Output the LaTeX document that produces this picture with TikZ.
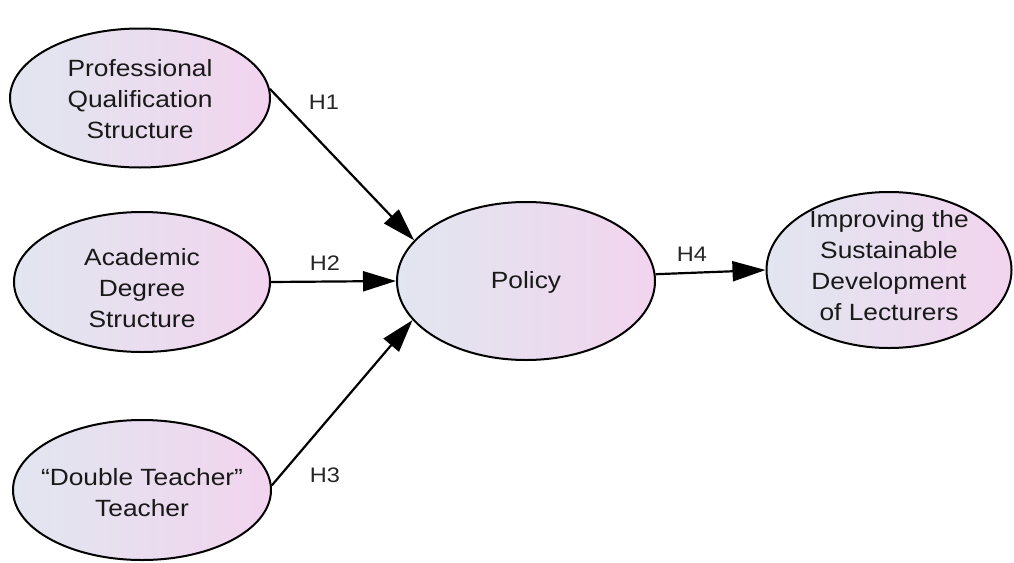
\documentclass[tikz,border=0pt]{standalone}
\usepackage{fontspec}
\setmainfont{Liberation Sans}[FakeStretch=1.12]
\usetikzlibrary{shapes.geometric,arrows.meta}
\definecolor{shL}{RGB}{225,230,240}
\definecolor{shR}{RGB}{242,212,238}
\tikzset{
  ell/.style={ellipse, draw=black, line width=2pt, inner sep=0pt, left color=shL, right color=shR},
  txt/.style={align=center, inner sep=0pt, text=black!90, font=\fontsize{23.5}{31}\selectfont},
  hlab/.style={inner sep=0pt, text=black!85, font=\fontsize{21}{24}\selectfont},
  link/.style={line width=2.2pt, -{Triangle[length=33pt,width=20pt]}}
}
\begin{document}
\begin{tikzpicture}[x=1pt,y=-1pt]
\useasboundingbox (0,0) rectangle (1014,562);
% ellipses
\node[ell, minimum width=260pt, minimum height=139pt] (pq) at (140,98) {};
\node[ell, minimum width=256pt, minimum height=140pt] (ads) at (142,282) {};
\node[ell, minimum width=258pt, minimum height=140pt] (dt) at (142,490) {};
\node[ell, minimum width=258pt, minimum height=158pt] (pol) at (526,281) {};
\node[ell, minimum width=245pt, minimum height=156pt] (imp) at (889,270) {};
% texts
\node[txt] (pqt) at (140,99) {Professional\\Qualification\\Structure};
\node[txt] (adst) at (142,288) {Academic\\Degree\\Structure};
\node[txt] (dtt) at (142,493) {``Double Teacher''\\Teacher};
\node[txt] (polt) at (526,282) {Policy};
\node[txt] (impt) at (889,266) {Improving the\\Sustainable\\Development\\of Lecturers};
% connectors
\draw[link] (pq.4) -- (pol.160);
\draw[link] (ads.east) -- (pol.west);
\draw[link] (dt.2) -- (pol.199);
\draw[link] (pol.3) -- (imp.west);
% labels
\node[hlab] (h1) at (324,102) {H1};
\node[hlab] (h2) at (325,263) {H2};
\node[hlab] (h3) at (325,475) {H3};
\node[hlab] (h4) at (692,254) {H4};
\end{tikzpicture}
\end{document}
